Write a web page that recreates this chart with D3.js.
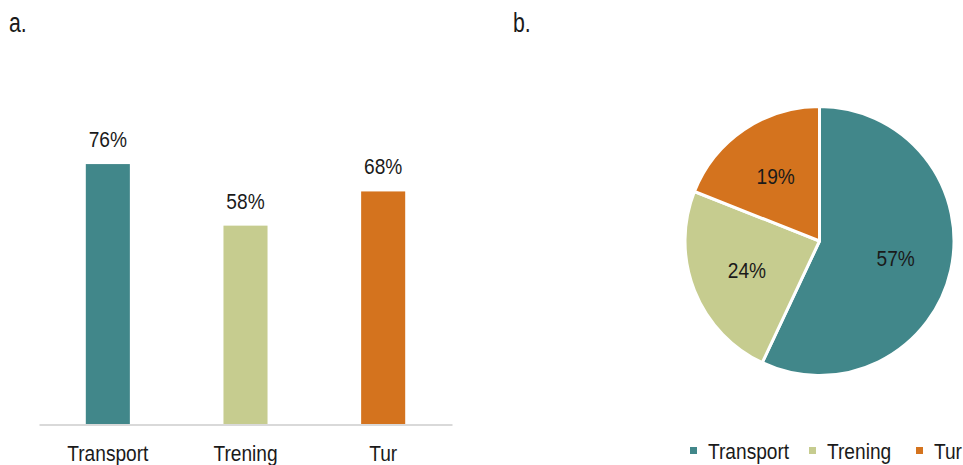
<!DOCTYPE html>
<html>
<head>
<meta charset="utf-8">
<script src="https://cdn.jsdelivr.net/npm/d3@7"></script>
<style>
  html, body { margin: 0; padding: 0; background: #fff; }
  svg text { font-family: "Liberation Sans", Arial, sans-serif; fill: #1a1a1a; }
</style>
</head>
<body>
<svg id="chart" width="963" height="465"></svg>
<script>
// Share of respondents per activity (panel a) and distribution (panel b)
const categories = ["Transport", "Trening", "Tur"];
const barValues = [0.76, 0.58, 0.68];
const pieValues = [57, 24, 19];
const colors = ["#41878a", "#c6cc8f", "#d4731e"];
const panelTitles = ["a.", "b."];

const svg = d3.select("#chart");
const NARROW = 0.87;   // horizontal squeeze for a condensed look
const FS = 22;

// Helper: condensed text placed at (x, y)
function narrowText(sel, x, y, size, anchor) {
  return sel.append("text")
    .attr("transform", `translate(${x},${y}) scale(${NARROW},1)`)
    .attr("font-size", size)
    .attr("text-anchor", anchor || "start");
}

// Panel titles
narrowText(svg, 9, 32, 28).attr("transform", "translate(9,32) scale(0.76,1)").text(panelTitles[0]);
narrowText(svg, 513, 32, 28).attr("transform", "translate(513,32) scale(0.76,1)").text(panelTitles[1]);

// ---- Panel a: bar chart ----
const x = d3.scaleBand().domain(categories).range([39, 452]).padding(0);
const y = d3.scaleLinear().domain([0, 1]).range([424, 82]);
const barW = x.bandwidth() * 0.32;

const bars = svg.append("g");
bars.selectAll("rect")
  .data(categories)
  .join("rect")
  .attr("x", d => x(d) + (x.bandwidth() - barW) / 2)
  .attr("y", (d, i) => y(barValues[i]))
  .attr("width", barW)
  .attr("height", (d, i) => y(0) - y(barValues[i]))
  .attr("fill", (d, i) => colors[i]);

bars.selectAll("text.val")
  .data(categories)
  .join("text")
  .attr("class", "val")
  .attr("transform", (d, i) => `translate(${x(d) + x.bandwidth() / 2},${y(barValues[i]) - 17}) scale(${NARROW},1)`)
  .attr("text-anchor", "middle")
  .attr("font-size", FS)
  .text((d, i) => Math.round(barValues[i] * 100) + "%");

// Category axis
const xAxis = svg.append("g")
  .attr("transform", `translate(0,${y(0) + 0.5})`)
  .call(d3.axisBottom(x).tickSize(0).tickPadding(21));
xAxis.select(".domain").attr("stroke", "#d9d9d9").attr("stroke-width", 2);
xAxis.selectAll("text")
  .attr("font-size", FS)
  .attr("fill", "#1a1a1a")
  .attr("transform", `scale(${NARROW},1)`)
  .style("font-family", "'Liberation Sans', Arial, sans-serif");

// ---- Panel b: pie chart ----
const cx = 819.5, cy = 241, r = 134.5;
const pie = d3.pie().sort(null).value(d => d);
const arcs = pie(pieValues);
const arc = d3.arc().innerRadius(0).outerRadius(r);
const labelArc = d3.arc().innerRadius(r * 0.58).outerRadius(r * 0.58);

const pg = svg.append("g").attr("transform", `translate(${cx},${cy})`);
pg.selectAll("path")
  .data(arcs)
  .join("path")
  .attr("d", arc)
  .attr("fill", (d, i) => colors[i])
  .attr("stroke", "#fff")
  .attr("stroke-width", 3)
  .attr("stroke-linejoin", "round");

pg.selectAll("text")
  .data(arcs)
  .join("text")
  .attr("transform", d => `translate(${labelArc.centroid(d)}) scale(${NARROW},1)`)
  .attr("text-anchor", "middle")
  .attr("dy", "0.36em")
  .attr("font-size", FS)
  .text(d => d.data + "%");

// Legend
const legendX = [690, 809, 916];
const lg = svg.append("g");
categories.forEach((c, i) => {
  lg.append("rect").attr("x", legendX[i]).attr("y", 447).attr("width", 7).attr("height", 7).attr("fill", colors[i]);
  narrowText(lg, legendX[i] + 18, 459, FS).text(c);
});
</script>
</body>
</html>
